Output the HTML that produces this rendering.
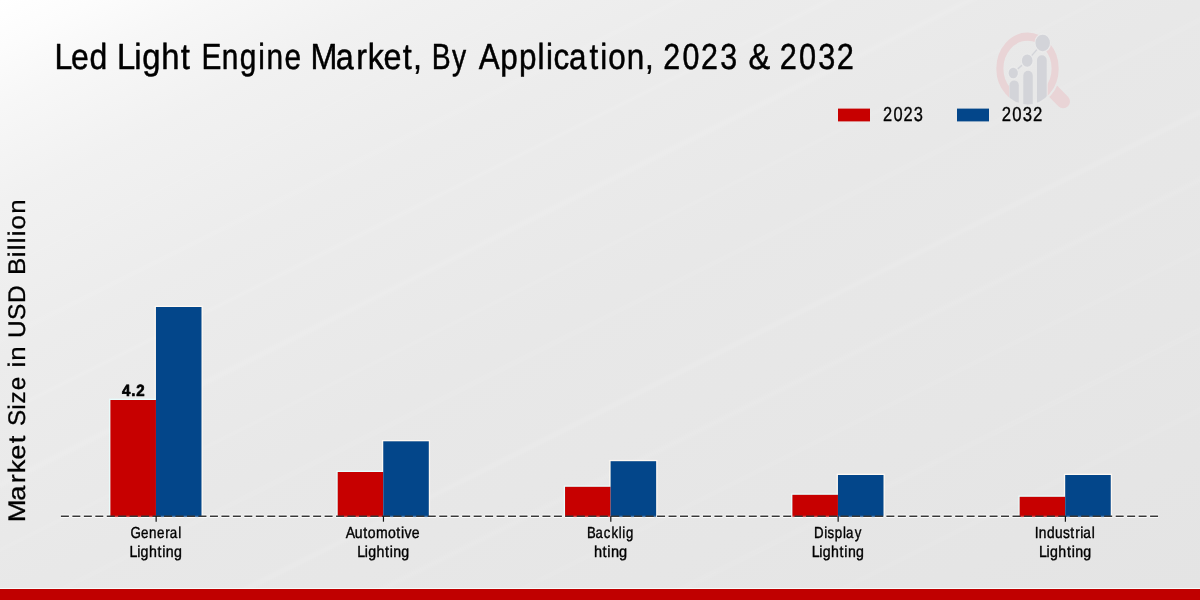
<!DOCTYPE html>
<html><head><meta charset="utf-8"><title>Led Light Engine Market</title>
<style>
html,body{margin:0;padding:0;width:1200px;height:600px;overflow:hidden;background:#e9e9e9;}
svg{display:block;position:absolute;left:0;top:0;will-change:transform;}
text{font-family:"Liberation Sans",sans-serif;fill:#000;text-rendering:geometricPrecision;}
</style></head><body>
<svg width="1200" height="600" viewBox="0 0 1200 600">
<defs>
<linearGradient id="bg" gradientUnits="userSpaceOnUse" x1="0" y1="0" x2="480" y2="960">
<stop offset="0" stop-color="#ffffff"/>
<stop offset="0.04" stop-color="#fcfcfc"/>
<stop offset="0.09" stop-color="#f7f7f7"/>
<stop offset="0.17" stop-color="#f1f1f1"/>
<stop offset="0.3" stop-color="#ececec"/>
<stop offset="0.5" stop-color="#e8e8e8"/>
<stop offset="1" stop-color="#e4e4e4"/>
</linearGradient>
<clipPath id="lens"><circle cx="0" cy="0" r="31.2"/></clipPath>
<clipPath id="ringclip"><path d="M980 20H1080V120H980Z M1009.2 68.5V120H1047.7V68.5Z" clip-rule="evenodd"/></clipPath>
<clipPath id="handleclip"><path d="M980 20H1090V125H980Z M994.3 68.5A33.2 37.8 0 1 0 1060.7 68.5A33.2 37.8 0 1 0 994.3 68.5Z" clip-rule="evenodd"/></clipPath>
<filter id="soft" x="-5%" y="-5%" width="110%" height="110%"><feGaussianBlur stdDeviation="1.6"/></filter>
</defs>
<rect x="0" y="0" width="1200" height="600" fill="url(#bg)"/>
<g id="streaks" stroke="#ffffff" fill="none" stroke-linecap="butt" filter="url(#soft)" opacity="0.5">
<line x1="-20" y1="425.0" x2="1220" y2="-195.0" stroke-width="5" stroke-opacity="0.16"/>
<line x1="-20" y1="495.0" x2="1220" y2="-125.0" stroke-width="6" stroke-opacity="0.18"/>
<line x1="-20" y1="560.0" x2="1220" y2="-60.0" stroke-width="4" stroke-opacity="0.14"/>
<line x1="-20" y1="630.0" x2="1220" y2="10.0" stroke-width="5" stroke-opacity="0.12"/>
<line x1="-20" y1="722.0" x2="1220" y2="102.0" stroke-width="6" stroke-opacity="0.18"/>
<line x1="-20" y1="790.0" x2="1220" y2="170.0" stroke-width="5" stroke-opacity="0.16"/>
<line x1="-20" y1="860.0" x2="1220" y2="240.0" stroke-width="4" stroke-opacity="0.12"/>
<line x1="-20" y1="940.0" x2="1220" y2="320.0" stroke-width="6" stroke-opacity="0.14"/>
<line x1="-20" y1="1020.0" x2="1220" y2="400.0" stroke-width="5" stroke-opacity="0.12"/>
<line x1="-20" y1="350.0" x2="1220" y2="-270.0" stroke-width="5" stroke-opacity="0.12"/>
<line x1="-20" y1="280.0" x2="1220" y2="-340.0" stroke-width="4" stroke-opacity="0.1"/>
</g>

<g id="logo">
<g clip-path="url(#ringclip)">
<g transform="translate(1027.5,68.5) scale(1,1.15)">
<circle cx="0" cy="0" r="27.65" fill="none" stroke="#e9d4d6" stroke-width="7.1"/>
</g></g>
<g clip-path="url(#handleclip)">
<line x1="1046" y1="84" x2="1063.2" y2="101.5" stroke="#e9d4d6" stroke-width="13.6" stroke-linecap="round"/>
</g>
<g transform="translate(1027.5,68.5) scale(1,1.15)">
<g clip-path="url(#lens)" fill="#d3d4d9">
<rect x="-18" y="10.4" width="9.3" height="40" rx="4.65" ry="4.2"/>
<rect x="-4.2" y="2" width="9.45" height="50" rx="4.7" ry="4.2"/>
<rect x="9.5" y="-11.5" width="9.7" height="60" rx="4.8" ry="4.2"/>
</g>
<polyline points="-14.25,3.9 -0.3,-6.8 15.2,-22.2" fill="none" stroke="#d3d4d9" stroke-width="1.3"/>
<g fill="#d3d4d9" stroke="#ebebeb" stroke-width="1.2" stroke-opacity="0.9">
<circle cx="-14.25" cy="3.9" r="5.2"/>
<circle cx="-0.3" cy="-6.8" r="5.9"/>
<circle cx="15.2" cy="-22.2" r="7.8"/>
</g>
</g>
</g>

<line x1="60.6" y1="516.25" x2="1158.9" y2="516.25" stroke="#ffffff" stroke-opacity="0.85" stroke-width="3.4" stroke-dasharray="8.6 2.865"/>
<g id="bars">
<rect x="109.10" y="398.70" width="46.85" height="118.30" fill="#e8ffff" fill-opacity="0.9"/>
<rect x="154.65" y="305.70" width="48.15" height="211.30" fill="#fffaf3" fill-opacity="0.9"/>
<rect x="336.40" y="470.70" width="46.85" height="46.30" fill="#e8ffff" fill-opacity="0.9"/>
<rect x="381.95" y="440.00" width="48.15" height="77.00" fill="#fffaf3" fill-opacity="0.9"/>
<rect x="563.75" y="485.50" width="46.85" height="31.50" fill="#e8ffff" fill-opacity="0.9"/>
<rect x="609.30" y="459.90" width="48.15" height="57.10" fill="#fffaf3" fill-opacity="0.9"/>
<rect x="791.10" y="493.50" width="46.85" height="23.50" fill="#e8ffff" fill-opacity="0.9"/>
<rect x="836.65" y="473.70" width="48.15" height="43.30" fill="#fffaf3" fill-opacity="0.9"/>
<rect x="1018.35" y="495.50" width="46.85" height="21.50" fill="#e8ffff" fill-opacity="0.9"/>
<rect x="1063.90" y="473.70" width="48.15" height="43.30" fill="#fffaf3" fill-opacity="0.9"/>
<rect x="110.40" y="400" width="45.55" height="117.00" fill="#c70000"/>
<rect x="155.95" y="307" width="45.55" height="210.00" fill="#03468a"/>
<rect x="337.70" y="472" width="45.55" height="45.00" fill="#c70000"/>
<rect x="383.25" y="441.3" width="45.55" height="75.70" fill="#03468a"/>
<rect x="565.05" y="486.8" width="45.55" height="30.20" fill="#c70000"/>
<rect x="610.60" y="461.2" width="45.55" height="55.80" fill="#03468a"/>
<rect x="792.40" y="494.8" width="45.55" height="22.20" fill="#c70000"/>
<rect x="837.95" y="475" width="45.55" height="42.00" fill="#03468a"/>
<rect x="1019.65" y="496.8" width="45.55" height="20.20" fill="#c70000"/>
<rect x="1065.20" y="475" width="45.55" height="42.00" fill="#03468a"/>
</g>
<line x1="60.9" y1="516.5" x2="1158.6" y2="516.5" stroke="#ffffff" stroke-opacity="0.3" stroke-width="1.6" stroke-dasharray="3.465 8.0" stroke-dashoffset="3.465"/>
<line x1="60.9" y1="516.25" x2="1158.6" y2="516.25" stroke="#383838" stroke-width="1.5" stroke-dasharray="8.0 3.465"/>
<line x1="156.15" y1="516.2" x2="156.15" y2="521.7" stroke="#151515" stroke-width="1.2"/>
<line x1="383.45" y1="516.2" x2="383.45" y2="521.7" stroke="#151515" stroke-width="1.2"/>
<line x1="610.80" y1="516.2" x2="610.80" y2="521.7" stroke="#151515" stroke-width="1.2"/>
<line x1="838.15" y1="516.2" x2="838.15" y2="521.7" stroke="#151515" stroke-width="1.2"/>
<line x1="1065.40" y1="516.2" x2="1065.40" y2="521.7" stroke="#151515" stroke-width="1.2"/>
<rect x="838" y="108.6" width="32" height="12.8" fill="#c70000"/>
<rect x="957" y="108.6" width="32" height="12.8" fill="#03468a"/>
<text transform="translate(0,121.40) scale(0.8132,1)" x="1085.87 1098.67 1110.95 1123.78" y="0" font-size="20.2" font-weight="normal" stroke="#000" stroke-width="0.35" stroke-linejoin="round">2023</text>
<text transform="translate(0,121.40) scale(0.8292,1)" x="1208.06 1220.86 1233.43 1245.68" y="0" font-size="20.2" font-weight="normal" stroke="#000" stroke-width="0.35" stroke-linejoin="round">2032</text>
<text transform="translate(0,69.00) scale(0.8833,1)" x="61.74 80.44 101.40" y="0" font-size="36.2" font-weight="normal" stroke="#000" stroke-width="0.5" stroke-linejoin="round">Led</text>
<text transform="translate(0,69.00) scale(0.9057,1)" x="129.25 148.34 157.04 177.99 199.70" y="0" font-size="36.2" font-weight="normal" stroke="#000" stroke-width="0.5" stroke-linejoin="round">Light</text>
<text transform="translate(0,69.00) scale(0.8246,1)" x="244.45 268.87 290.86 313.17 323.20 345.14" y="0" font-size="36.2" font-weight="normal" stroke="#000" stroke-width="0.5" stroke-linejoin="round">Engine</text>
<text transform="translate(0,69.00) scale(0.8929,1)" x="347.63 375.90 398.87 411.93 429.45 451.08 462.65" y="0" font-size="36.2" font-weight="normal" stroke="#000" stroke-width="0.5" stroke-linejoin="round">Market,</text>
<text transform="translate(0,69.00) scale(0.7834,1)" x="551.19 576.90" y="0" font-size="36.2" font-weight="normal" stroke="#000" stroke-width="0.5" stroke-linejoin="round">By</text>
<text transform="translate(0,69.00) scale(0.8680,1)" x="551.44 576.23 597.95 619.39 628.91 637.62 655.60 679.04 691.61 700.78 722.15 743.05" y="0" font-size="36.2" font-weight="normal" stroke="#000" stroke-width="0.5" stroke-linejoin="round">Application,</text>
<text transform="translate(0,69.00) scale(0.8389,1)" x="790.64 813.58 835.59 858.57" y="0" font-size="36.2" font-weight="normal" stroke="#000" stroke-width="0.5" stroke-linejoin="round">2023</text>
<text transform="translate(0,69.00) scale(0.8995,1)" x="832.19" y="0" font-size="36.2" font-weight="normal" stroke="#000" stroke-width="0.5" stroke-linejoin="round">&amp;</text>
<text transform="translate(0,69.00) scale(0.8471,1)" x="920.43 943.37 965.88 987.84" y="0" font-size="36.2" font-weight="normal" stroke="#000" stroke-width="0.5" stroke-linejoin="round">2032</text>
<text transform="translate(0,537.60) scale(0.8345,1)" x="156.44 168.95 178.57 188.18 198.13 203.35 213.46" y="0" font-size="16.0" font-weight="normal" stroke="#000" stroke-width="0.4" stroke-linejoin="round">General</text>
<text transform="translate(0,557.00) scale(0.8876,1)" x="146.03 154.52 158.42 167.77 177.44 182.83 186.84 195.99" y="0" font-size="16.0" font-weight="normal" stroke="#000" stroke-width="0.4" stroke-linejoin="round">Lighting</text>
<text transform="translate(0,537.60) scale(0.8768,1)" x="394.28 404.70 414.35 419.44 428.75 442.43 451.89 457.24 461.31 469.64" y="0" font-size="16.0" font-weight="normal" stroke="#000" stroke-width="0.4" stroke-linejoin="round">Automotive</text>
<text transform="translate(0,557.00) scale(0.8838,1)" x="404.15 412.64 416.54 425.89 435.56 440.95 444.96 454.11" y="0" font-size="16.0" font-weight="normal" stroke="#000" stroke-width="0.4" stroke-linejoin="round">Lighting</text>
<text transform="translate(0,537.60) scale(0.8179,1)" x="717.64 728.24 738.28 747.54 756.40 760.80 765.24" y="0" font-size="16.0" font-weight="normal" stroke="#000" stroke-width="0.4" stroke-linejoin="round">Backlig</text>
<text transform="translate(0,557.00) scale(0.9104,1)" x="652.37 661.87 667.15 671.02 679.98" y="0" font-size="16.0" font-weight="normal" stroke="#000" stroke-width="0.4" stroke-linejoin="round">hting</text>
<text transform="translate(0,537.60) scale(0.8281,1)" x="982.96 995.22 999.41 1008.10 1017.89 1021.67 1032.23" y="0" font-size="16.0" font-weight="normal" stroke="#000" stroke-width="0.4" stroke-linejoin="round">Display</text>
<text transform="translate(0,557.00) scale(0.8837,1)" x="918.69 927.18 931.08 940.43 950.10 955.49 959.50 968.65" y="0" font-size="16.0" font-weight="normal" stroke="#000" stroke-width="0.4" stroke-linejoin="round">Lighting</text>
<text transform="translate(0,537.60) scale(0.8570,1)" x="1207.41 1212.19 1221.58 1231.15 1240.40 1248.88 1254.79 1260.57 1264.00 1273.92" y="0" font-size="16.0" font-weight="normal" stroke="#000" stroke-width="0.4" stroke-linejoin="round">Industrial</text>
<text transform="translate(0,557.00) scale(0.8846,1)" x="1174.66 1183.15 1187.05 1196.41 1206.08 1211.46 1215.47 1224.62" y="0" font-size="16.0" font-weight="normal" stroke="#000" stroke-width="0.4" stroke-linejoin="round">Lighting</text>
<text transform="translate(0,395.80) scale(0.9253,1)" x="131.82 141.93 147.39" y="0" font-size="16.3" font-weight="bold" stroke="#000" stroke-width="0.7" stroke-linejoin="round">4.2</text>
<text transform="translate(25,519.27) rotate(-90) scale(1.1360,1)" x="-2.54 16.41 31.80 40.60 52.37 66.86" y="0" font-size="24" stroke="#000" stroke-width="0.3">Market</text>
<text transform="translate(25,424.24) rotate(-90) scale(1.0124,1)" x="-1.87 14.26 20.62 33.51" y="0" font-size="24" stroke="#000" stroke-width="0.3">Size</text>
<text transform="translate(25,365.83) rotate(-90) scale(1.0759,1)" x="-1.65 4.62" y="0" font-size="24" stroke="#000" stroke-width="0.3">in</text>
<text transform="translate(25,336.17) rotate(-90) scale(1.0176,1)" x="-1.76 15.94 32.59" y="0" font-size="24" stroke="#000" stroke-width="0.3">USD</text>
<text transform="translate(25,272.50) rotate(-90) scale(1.0767,1)" x="-2.34 14.26 20.71 27.18 33.66 40.00 54.54" y="0" font-size="24" stroke="#000" stroke-width="0.3">Billion</text>
<rect x="0" y="588" width="1200" height="1.2" fill="#f6fbfb"/>
<rect x="0" y="589" width="1200" height="11" fill="#c00000"/>
</svg></body></html>
